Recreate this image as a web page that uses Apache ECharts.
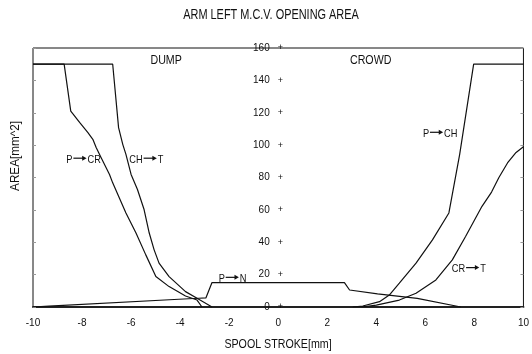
<!DOCTYPE html>
<html>
<head>
<meta charset="utf-8">
<script src="https://cdn.jsdelivr.net/npm/echarts@6/dist/echarts.min.js"></script>
<style>
  html, body { margin: 0; padding: 0; background: #fff; }
  #chart { width: 532px; height: 354px; }
</style>
</head>
<body>
<div id="chart"></div>
<script>
// spool stroke [mm] vs opening area [mm^2]
const pToCr = [[-10, 150], [-8.73, 150], [-8.46, 121], [-8.10, 114], [-7.76, 107.7], [-7.56, 103.6],
  [-7.42, 98.4], [-7.22, 92.2], [-6.88, 81.9], [-6.75, 76.7], [-6.21, 58.1], [-5.80, 45.7],
  [-5.40, 32.2], [-4.99, 18.8], [-4.45, 12.6], [-3.78, 6.8], [-3.31, 4.3], [-3.11, 0]]
const chToT = [[-10, 150], [-6.75, 150], [-6.51, 110.8], [-6.34, 100.5], [-6.21, 94.3], [-6.00, 81.9],
  [-5.74, 72.6], [-5.47, 60.2], [-5.26, 45.7], [-5.06, 35.3], [-4.86, 27.1], [-4.45, 18.8],
  [-3.78, 9.5], [-3.31, 5.4], [-2.70, 0]]
const pToN = [[-10, 0], [-9.35, 0.5], [-4.05, 4.8], [-3.24, 5.4], [-2.95, 5.6], [-2.70, 15.1],
  [2.70, 15.1], [2.91, 10.5], [4.05, 8.1], [5.67, 5.3], [7.45, 0]]
const pToCh = [[3.04, 0], [3.45, 0.6], [4.13, 3.3], [4.53, 7.4], [4.94, 14.7], [5.62, 27.1],
  [6.29, 41.5], [6.96, 58.1], [7.40, 94.3], [7.97, 150], [10, 150]]
const crToT = [[3.40, 0], [4.00, 1.2], [4.94, 4.3], [5.62, 8.5], [6.43, 16.7], [7.10, 29.1],
  [7.64, 43.6], [8.31, 62.2], [8.70, 71], [9.00, 80], [9.35, 89], [9.70, 95.5], [10, 99]]

const xTicks = [-10, 10, 2]   // min, max, step
const yTicks = [0, 160, 20]

// flow path labels: from, to, anchor (stroke, area)
const pathLabels = [
  { from: 'P', to: 'CR', x: -8.64, y: 91 },
  { from: 'CH', to: 'T', x: -6.07, y: 91 },
  { from: 'P', to: 'N', x: -2.43, y: 17.4 },
  { from: 'P', to: 'CH', x: 5.9, y: 107 },
  { from: 'CR', to: 'T', x: 7.08, y: 23.4 }
]
const sideLabels = [
  { text: 'DUMP', x: -4.57, y: 152.6 },
  { text: 'CROWD', x: 3.77, y: 152.6 }
]

const FONT = "'Liberation Sans Narrow', 'Arial Narrow', 'Liberation Sans', sans-serif"
const INK = '#111'
const NARROW = 0.82 // no condensed face installed, squeeze the free texts

const chart = echarts.init(document.getElementById('chart'))

const lineSeries = (name, data) => ({
  name,
  type: 'line',
  data,
  symbol: 'none',
  smooth: false,
  lineStyle: { color: INK, width: 1.2 },
  z: 3
})

const borderAxis = (position) => ({
  type: 'value',
  position,
  min: yTicks[0],
  max: yTicks[1],
  interval: yTicks[2],
  axisLine: { show: false },
  axisTick: { show: true, inside: true, length: 3, lineStyle: { color: '#999' } },
  axisLabel: { show: false },
  splitLine: { show: false }
})

chart.setOption({
  animation: false,
  backgroundColor: '#fff',
  grid: {
    left: 33,
    right: 5,
    top: 48,
    bottom: 47,
    show: true,
    borderColor: INK,
    borderWidth: 1
  },
  xAxis: {
    type: 'value',
    min: xTicks[0],
    max: xTicks[1],
    interval: xTicks[2],
    axisLine: { onZero: false, lineStyle: { color: '#222', width: 2 } },
    axisTick: { show: false },
    splitLine: { show: false },
    axisLabel: { margin: 11, fontFamily: FONT, fontSize: 10, color: INK }
  },
  yAxis: [
    {
      type: 'value',
      position: 'left',
      offset: -247, // sits on stroke 0
      min: yTicks[0],
      max: yTicks[1],
      interval: yTicks[2],
      axisLine: { show: false },
      axisTick: { show: false },
      splitLine: { show: false },
      axisLabel: {
        margin: -3,
        formatter: v => '{n|' + v + '}{p|+}',
        rich: {
          n: { fontFamily: FONT, fontSize: 10, color: INK },
          p: { fontFamily: FONT, fontSize: 9, color: INK, padding: [0, 0, 0, 8] }
        }
      }
    },
    borderAxis('right'),
    borderAxis('left')
  ],
  series: [
    lineSeries('P→CR', pToCr),
    lineSeries('CH→T', chToT),
    lineSeries('P→N', pToN),
    lineSeries('P→CH', pToCh),
    lineSeries('CR→T', crToT)
  ]
})

// text width helper
const measureCtx = document.createElement('canvas').getContext('2d')
const textWidth = (t, size) => {
  measureCtx.font = size + 'px ' + FONT
  return measureCtx.measureText(t).width
}

const LABEL_SIZE = 10.5
const arrowLabel = (a) => {
  const [px, py] = chart.convertToPixel({ gridIndex: 0 }, [a.x, a.y])
  const w = textWidth(a.from, LABEL_SIZE)
  const ax = w + 1
  return {
    type: 'group',
    x: px,
    y: py,
    scaleX: 0.88,
    z: 10,
    children: [
      { type: 'text', style: { text: a.from, x: 0, y: 0, font: LABEL_SIZE + 'px ' + FONT, fill: INK, verticalAlign: 'middle' } },
      { type: 'line', shape: { x1: ax, y1: -1.5, x2: ax + 11, y2: -1.5 }, style: { stroke: INK, lineWidth: 1.2 } },
      { type: 'polygon', shape: { points: [[ax + 10, -4], [ax + 15, -1.5], [ax + 10, 1]] }, style: { fill: INK } },
      { type: 'text', style: { text: a.to, x: ax + 16, y: 0, font: LABEL_SIZE + 'px ' + FONT, fill: INK, verticalAlign: 'middle' } }
    ]
  }
}

const sideLabel = (s) => {
  const [px, py] = chart.convertToPixel({ gridIndex: 0 }, [s.x, s.y])
  return {
    type: 'text', x: px, y: py, z: 10, scaleX: NARROW,
    style: { text: s.text, font: '13px ' + FONT, fill: INK, align: 'center', verticalAlign: 'middle' }
  }
}

chart.setOption({
  graphic: [
    {
      type: 'text', x: 271, y: 15, scaleX: 0.78,
      style: { text: 'ARM LEFT M.C.V. OPENING AREA', font: '14px ' + FONT, fill: INK, align: 'center', verticalAlign: 'middle' }
    },
    {
      type: 'text', x: 15, y: 156, rotation: Math.PI / 2, scaleX: 0.9,
      style: { text: 'AREA[mm^2]', font: '13px ' + FONT, fill: INK, align: 'center', verticalAlign: 'middle' }
    },
    {
      type: 'text', x: 278, y: 344, scaleX: NARROW,
      style: { text: 'SPOOL STROKE[mm]', font: '13px ' + FONT, fill: INK, align: 'center', verticalAlign: 'middle' }
    },
    ...sideLabels.map(sideLabel),
    ...pathLabels.map(arrowLabel)
  ]
})

window.addEventListener('resize', () => chart.resize())
</script>
</body>
</html>
